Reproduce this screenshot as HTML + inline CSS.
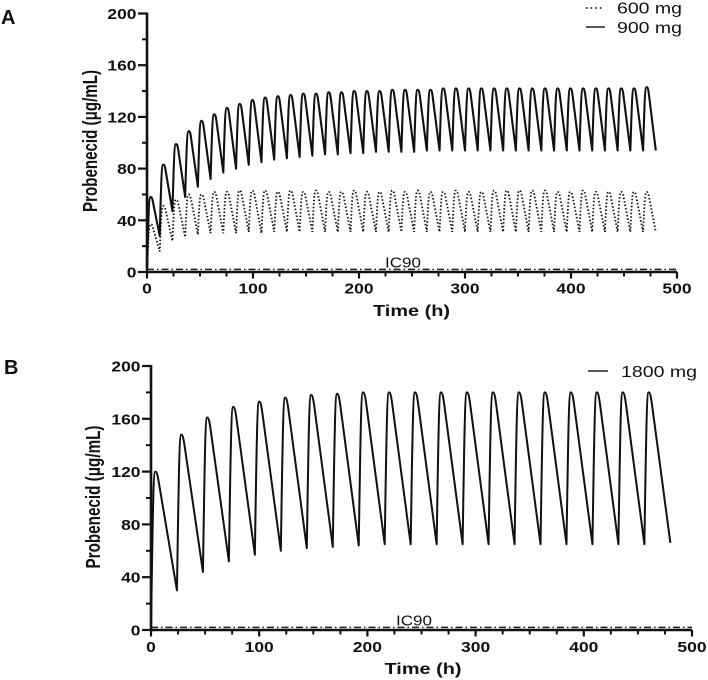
<!DOCTYPE html>
<html lang="en">
<head>
<meta charset="utf-8">
<title>Probenecid concentration-time profiles</title>
<style>
html,body{margin:0;padding:0;background:#fff;}
svg{display:block;filter:blur(0.3px);}
text{font-family:"Liberation Sans",Arial,sans-serif;fill:#111;}
.tick{font-weight:bold;font-size:15px;}
.title{font-weight:bold;font-size:16px;}
.ytitle{font-weight:bold;font-size:20px;}
.leg{font-size:16px;}
</style>
</head>
<body>
<svg id="figure" width="708" height="680" viewBox="0 0 708 680" xmlns="http://www.w3.org/2000/svg"></svg>
<script>
// Panel A values (one entry per 12 h dose)
const peaks600 = [37,51,56,60,60,62,62,63,63,63,62,63,62,63,62,62,63,62,62,63,62,63,62,62,63,62,62,63,63,63,63,63,62,62,63,62,62,62,62,62];
const troughs600 = [16,24,27,29,30,30,30,31,30,31,31,31,31,31,31,31,31,31,31,31,31,31,31,31,31,31,31,31,31,31,31,31,31,31,31,31,31,31,31,31];
const peaks900 = [58,83,99,109,117,122,127,130,133,135,136,137,138,138,139,139,140,140,140,141,141,141,141,142,142,142,142,142,142,142,142,142,142,142,142,142,142,142,142,143];
const troughs900 = [28,47,58,66,72,77,80,83,85,87,88,89,90,91,91,92,92,93,93,93,93,94,94,94,94,94,94,94,94,94,94,94,94,94,94,94,94,94,94,94];
// Panel B values (one entry per 24 h dose)
const peaks1800 = [120,148,161,169,173,176,178,179,180,180,180,180,180,180,180,180,180,180,180,180];
const troughs1800 = [30,44,52,57,60,62,63,64,65,65,65,65,65,65,65,65,65,65,65,66];
// Axis ticks
const yTickLabels = [0,40,80,120,160,200];
const yMinorTicks = [20,60,100,140,180];
const xTickLabels = [0,100,200,300,400,500];
const xMinorTicks = [25,50,75,125,150,175,225,250,275,325,350,375,425,450,475];
const ic90Value = [2];

const NS = 'http://www.w3.org/2000/svg';
const fig = document.getElementById('figure');

function make(parent, tag, attrs, content) {
  const el = document.createElementNS(NS, tag);
  for (const k in attrs) el.setAttribute(k, attrs[k]);
  if (content !== undefined) el.textContent = content;
  parent.appendChild(el);
  return el;
}

function curve(x, y, peaks, troughs, interval, rise, shoulderTime, shoulderDrop) {
  let d = 'M' + x(0) + ' ' + y(0);
  let last = 0;
  peaks.forEach(function (p, i) {
    const t0 = i * interval;
    const v = troughs[i];
    const tp = t0 + rise;
    const fall = interval - rise;
    const ts = tp + fall * shoulderTime;
    const vs = p - (p - v) * shoulderDrop;
    const slope = (vs - v) / (t0 + interval - ts);
    const a = (ts - tp) * 0.3;
    d += ' C' + x(t0 + rise * 0.45) + ' ' + y(last + (p - last) * 0.85) + ' ' + x(t0 + rise * 0.6) + ' ' + y(p) + ' ' + x(tp) + ' ' + y(p);
    d += ' C' + x(tp + (ts - tp) * 0.45) + ' ' + y(p) + ' ' + x(ts - a) + ' ' + y(vs + a * slope) + ' ' + x(ts) + ' ' + y(vs);
    d += ' L' + x(t0 + interval) + ' ' + y(v);
    last = v;
  });
  return d;
}

function buildAxes(g, x, y, box) {
  const xAxis = make(g, 'path', {d: 'M' + x(0) + ' ' + y(0) + ' H' + x(500), stroke: '#111', 'stroke-width': 2.6, fill: 'none'});
  
  
  const yAxis = make(g, 'path', {d: 'M' + x(0) + ' ' + (y(200) - 1) + ' V' + (y(0) + 1), stroke: '#111', 'stroke-width': 2.6, fill: 'none'});
  
  

  yTickLabels.forEach(function (v) {
    const t = make(g, 'path', {d: 'M' + (x(0) - 9) + ' ' + y(v) + ' H' + x(0), stroke: '#111', 'stroke-width': 2.2});
    
    
    const w = String(v).length * 9.7;
    const l = make(g, 'text', {class: 'tick', x: x(0) - 10.5, y: y(v) + 5.5, 'text-anchor': 'end', textLength: w, lengthAdjust: 'spacingAndGlyphs'}, String(v));
    
    
  });
  yMinorTicks.forEach(function (v) {
    const t = make(g, 'path', {d: 'M' + (x(0) - 5) + ' ' + y(v) + ' H' + x(0), stroke: '#111', 'stroke-width': 2});
    
    
  });
  xTickLabels.forEach(function (v) {
    const t = make(g, 'path', {d: 'M' + x(v) + ' ' + y(0) + ' V' + (y(0) + 6.5), stroke: '#111', 'stroke-width': 2.2});
    
    
    const w = String(v).length * 9.7;
    const l = make(g, 'text', {class: 'tick', x: x(v), y: y(0) + box.xLabelDy, 'text-anchor': 'middle', textLength: w, lengthAdjust: 'spacingAndGlyphs'}, String(v));
    
    
  });
  xMinorTicks.forEach(function (v) {
    const t = make(g, 'path', {d: 'M' + x(v) + ' ' + y(0) + ' V' + (y(0) + 4.5), stroke: '#111', 'stroke-width': 2});
    
    
  });

  const ic = make(g, 'path', {d: 'M' + x(0) + ' ' + y(ic90Value[0]) + ' H' + x(500), stroke: '#222', 'stroke-width': 1.5, 'stroke-dasharray': '7 3 1.5 3', fill: 'none'});
  
  
  const icl = make(g, 'text', {x: box.icX, y: y(0) - 4.5, 'font-size': 15, 'text-anchor': 'middle', textLength: 36, lengthAdjust: 'spacingAndGlyphs'}, 'IC90');
  
  

  const xt = make(g, 'text', {class: 'title', x: box.xTitleX, y: box.xTitleY, 'text-anchor': 'middle', textLength: 77, lengthAdjust: 'spacingAndGlyphs'}, 'Time (h)');
  
  
  const yt = make(g, 'text', {class: 'ytitle', transform: 'translate(' + box.yTitleX + ' ' + box.yTitleY + ') rotate(-90)', 'text-anchor': 'middle', textLength: box.yTitleLen, lengthAdjust: 'spacingAndGlyphs'}, 'Probenecid (μg/mL)');
  
  
}

function legendEntry(g, x1, x2, lineY, textX, textY, textLen, label, dash, name) {
  const attrs = {d: 'M' + x1 + ' ' + lineY + ' H' + x2, stroke: '#222', 'stroke-width': dash ? 1.8 : 1.6, fill: 'none'};
  if (dash) attrs['stroke-dasharray'] = dash;
  const ln = make(g, 'path', attrs);
  
  
  const t = make(g, 'text', {class: 'leg', x: textX, y: textY, textLength: textLen, lengthAdjust: 'spacingAndGlyphs'}, label);
  
  
}

// Panel A
const ax = function (t) { return +(147 + t * 530 / 500).toFixed(2); };
const ay = function (v) { return +(272 - v * 258.5 / 200).toFixed(2); };
const panelA = make(fig, 'g', {});


const labelA = make(panelA, 'text', {x: 1, y: 24, 'font-size': 20, 'font-weight': 'bold'}, 'A');


const s600 = make(panelA, 'path', {d: curve(ax, ay, peaks600, troughs600, 12, 3.3, 0.25, 0.11), fill: 'none', stroke: '#111', 'stroke-width': 1.8, 'stroke-dasharray': '1.5 2'});


const s900 = make(panelA, 'path', {d: curve(ax, ay, peaks900, troughs900, 12, 3.3, 0.25, 0.11), fill: 'none', stroke: '#111', 'stroke-width': 2.1, 'stroke-linejoin': 'round'});


buildAxes(panelA, ax, ay, {xLabelDy: 21.5, icX: 403, xTitleX: 411.5, xTitleY: 316, yTitleX: 97, yTitleY: 141, yTitleLen: 142});
legendEntry(panelA, 586, 604, 8, 617, 13.5, 65, '600 mg', '1.6 3', 'legend-600-mg');
legendEntry(panelA, 586, 605, 27, 617, 33, 65, '900 mg', null, 'legend-900-mg');

// Panel B
const bx = function (t) { return +(151 + t * 541 / 500).toFixed(2); };
const by = function (v) { return +(630 - v * 264 / 200).toFixed(2); };
const panelB = make(fig, 'g', {});


const labelB = make(panelB, 'text', {x: 4, y: 374, 'font-size': 20, 'font-weight': 'bold'}, 'B');


const s1800 = make(panelB, 'path', {d: curve(bx, by, peaks1800, troughs1800, 24, 4, 0.16, 0.09), fill: 'none', stroke: '#111', 'stroke-width': 2, 'stroke-linejoin': 'round'});


buildAxes(panelB, bx, by, {xLabelDy: 22, icX: 414, xTitleX: 423, xTitleY: 674, yTitleX: 100, yTitleY: 497, yTitleLen: 143});
legendEntry(panelB, 588, 608, 371, 621, 377, 76, '1800 mg', null, 'legend-1800-mg');
</script>
</body>
</html>
